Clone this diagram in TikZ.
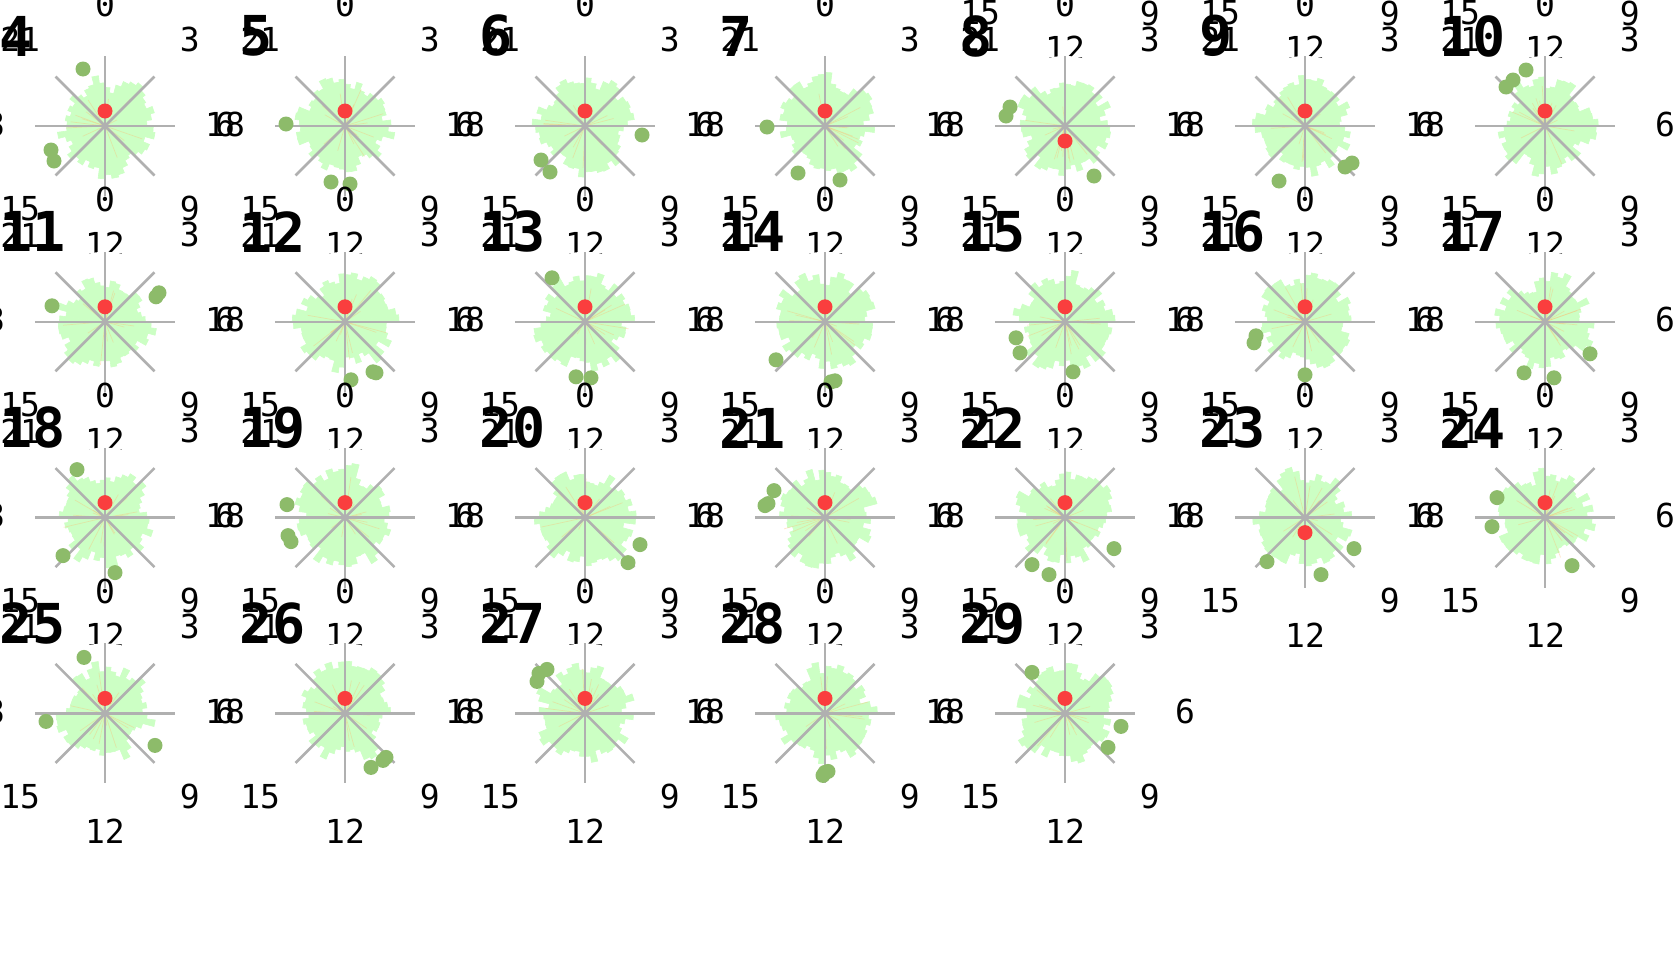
\documentclass[tikz,border=0pt]{standalone}
\usepackage{fontspec}
\setmonofont{DejaVu Sans Mono}
\usepackage{tikz}
\usetikzlibrary{positioning}
\definecolor{rosegreen}{RGB}{204,255,196}
\definecolor{dotgreen}{RGB}{141,187,106}
\definecolor{dotred}{RGB}{250,62,62}
\definecolor{spokegray}{RGB}{176,176,176}
\definecolor{faintorange}{RGB}{255,185,110}

\begin{document}
\begin{tikzpicture}[x=1bp,y=-1bp,
    hour/.style={font=\fontsize{33bp}{33bp}\ttfamily,inner sep=0pt},
    charttitle/.style={font=\fontsize{55bp}{55bp}\ttfamily\bfseries,inner sep=0pt,anchor=west},
    spokeline/.style={spokegray,line width=2.6bp},
    bigdot/.style={circle,inner sep=0pt,minimum size=15bp}]
\useasboundingbox (0,0) rectangle (1680,979);
\clip (0,0) rectangle (1680,979);
% one polar panel per entry: number/column/row/red offset/green dots
\foreach \n/\col/\row/\red/\greens in {
    1/4/-1/-15/{0/-60},
    2/5/-1/-15/{0/-60},
    3/6/-1/-15/{0/-60},
    4/0/0/-15/{-22/-57,-54/24,-51/35},
    5/1/0/-15/{-59/-2,-14/56,5/58},
    6/2/0/-15/{57/9,-44/34,-35/46},
    7/3/0/-15/{-58/1,-27/47,15/54},
    8/4/0/15/{-55/-19,-59/-10,29/50},
    9/5/0/-15/{-26/55,40/41,47/37},
    10/6/0/-15/{-19/-56,-32/-46,-39/-39},
    11/0/1/-15/{-53/-16,51/-25,54/-29},
    12/1/1/-15/{6/58,28/50,31/51},
    13/2/1/-15/{-33/-44,-9/55,6/56},
    14/3/1/-15/{-49/38,6/60,10/59},
    15/4/1/-15/{-49/16,-45/31,8/50},
    16/5/1/-15/{-49/14,-51/21,0/53},
    17/6/1/-15/{45/32,-21/51,9/56},
    18/0/2/-15/{-28/-48,-42/38,10/55},
    19/1/2/-15/{-58/-13,-57/18,-54/24},
    20/2/2/-15/{55/27,43/45},
    21/3/2/-15/{-51/-27,-57/-14,-60/-12},
    22/4/2/-15/{49/31,-33/47,-16/57},
    23/5/2/15/{49/31,-38/44,16/57},
    24/6/2/-15/{-48/-20,-53/9,27/48},
    25/0/3/-15/{-21/-56,-59/8,50/32},
    26/1/3/-15/{41/44,38/47,26/54},
    27/2/3/-15/{-38/-44,-46/-40,-48/-32},
    28/3/3/-15/{0/59,3/58,-2/62},
    29/4/3/-15/{-33/-41,56/13,43/34}}
{
    \pgfmathsetmacro\cx{105+240*\col}
    \pgfmathsetmacro\cy{126+195.8*\row}
    \pgfmathsetseed{\n}
    \gdef\rprev{44}
    \fill[white] (\cx,\cy) circle[radius=70];
    % rose of bars, each bar leaning on the one before
    \foreach \i in {0,...,47}{
        \pgfmathsetmacro\r{0.4*\rprev+0.6*(30+27*rnd)}
        \global\let\rprev\r
        \filldraw[rosegreen,line width=0.6bp] (\cx,\cy) -- +(\i*7.5:\r) -- +(\i*7.5+7.5:\r) -- cycle;
    }
    \foreach \k in {1,...,14}
        \draw[faintorange,opacity=.35,line width=0.7bp] (\cx,\cy) -- +({360*rnd}:{12+33*rnd});
    \foreach \a in {0,45,...,315}
        \draw[spokeline] (\cx,\cy) -- +(\a:70);
    \foreach \gx/\gy in \greens
        \node[bigdot,fill=dotgreen] at (\cx+\gx,\cy+\gy) {};
    \node[bigdot,fill=dotred] (red\n) at (\cx,\cy+\red) {};
    \foreach \h in {0,3,...,21}
        \node[hour] (h\n-\h) at ({\cx+120*sin(15*\h)},{\cy-2-120*cos(15*\h)}) {\h};
    \node[charttitle] (t\n) at (\cx-106,\cy-90) {\n};
}
\end{tikzpicture}
\end{document}
